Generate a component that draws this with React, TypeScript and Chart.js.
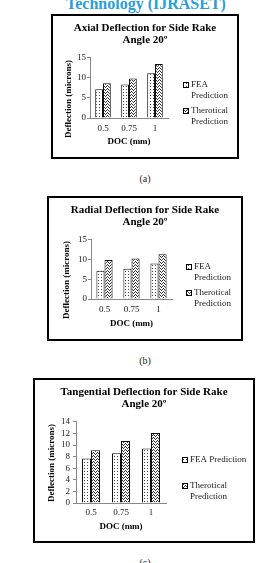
import React, { useEffect, useRef } from "react";
import { Chart, registerables } from "chart.js";

Chart.register(...registerables);

const categories = ["0.5", "0.75", "1"];
const seriesNames = ["FEA Prediction", "Therotical Prediction"];

const axialFEA = [7.2, 8.4, 11.2];
const axialTheo = [8.7, 9.9, 13.5];
const radialFEA = [7.2, 7.7, 9.0];
const radialTheo = [9.9, 10.3, 11.4];
const tangFEA = [7.7, 8.6, 9.4];
const tangTheo = [9.1, 10.7, 12.1];

const axialTitle = ["Axial Deflection for Side Rake", "Angle 20\u00ba"];
const radialTitle = ["Radial Deflection for Side Rake", "Angle 20\u00ba"];
const tangTitle = ["Tangential Deflection for Side Rake", "Angle 20\u00ba"];
const xTitle = "DOC (mm)";
const yTitle = "Deflection (microns)";
const legendTwoLine = [["FEA", "Prediction"], ["Therotical", "Prediction"]];
const legendOneLine = [["FEA Prediction"], ["Therotical", "Prediction"]];

const SERIF = "'Liberation Serif', 'Times New Roman', serif";

function makeDots(): CanvasPattern {
  const c = document.createElement("canvas");
  c.width = 3;
  c.height = 3;
  const x = c.getContext("2d")!;
  x.fillStyle = "#fff";
  x.fillRect(0, 0, 3, 3);
  x.fillStyle = "#444";
  x.fillRect(1, 1, 1, 1);
  return x.createPattern(c, "repeat")!;
}

function makeZig(): CanvasPattern {
  const c = document.createElement("canvas");
  c.width = 4;
  c.height = 3;
  const x = c.getContext("2d")!;
  x.fillStyle = "#fff";
  x.fillRect(0, 0, 4, 3);
  x.fillStyle = "#333";
  x.fillRect(0, 2, 1, 1);
  x.fillRect(1, 1, 1, 1);
  x.fillRect(2, 0, 1, 1);
  x.fillRect(3, 1, 1, 1);
  return x.createPattern(c, "repeat")!;
}

type Spec = {
  boxLeft: number;
  boxTop: number;
  boxW: number;
  boxH: number;
  title: string[];
  fea: number[];
  theo: number[];
  yMax: number;
  yStep: number;
  plotL: number;
  plotR: number;
  xHeight: number;
  xTickPad: number;
  xTitlePad: number;
  yTickPad: number;
  yTitleX: number;
  yTitleY: number;
  legend: string[][];
  legendBoxX: number;
  legendTextX: number;
  legendY: number[];
};

function BarChart({ spec }: { spec: Spec }) {
  const ref = useRef<HTMLCanvasElement>(null);
  const W = spec.boxW - 4;
  const H = spec.boxH - 4;

  useEffect(() => {
    const canvas = ref.current!;
    const fea = makeDots();
    const theo = makeZig();
    const patterns = [fea, theo];

    const sidePlugin = {
      id: "sideLegend",
      afterDraw(chart: any) {
        const ctx = chart.ctx as CanvasRenderingContext2D;
        ctx.save();
        ctx.font = `9px ${SERIF}`;
        ctx.textBaseline = "middle";
        ctx.textAlign = "left";
        spec.legend.forEach((lines, i) => {
          const y = spec.legendY[i];
          ctx.fillStyle = patterns[i];
          ctx.fillRect(spec.legendBoxX, y - 3, 6, 6);
          ctx.strokeStyle = "#000";
          ctx.lineWidth = 1;
          ctx.strokeRect(spec.legendBoxX + 0.5, y - 2.5, 5, 5);
          ctx.fillStyle = "#222";
          lines.forEach((t, j) => ctx.fillText(t, spec.legendTextX, y + j * 10.5));
        });
        ctx.restore();

        // y-axis title, offset downward as in the original figure
        ctx.save();
        ctx.font = `bold 9px ${SERIF}`;
        ctx.fillStyle = "#000";
        ctx.textAlign = "center";
        ctx.textBaseline = "middle";
        ctx.translate(spec.yTitleX, spec.yTitleY);
        ctx.rotate(-Math.PI / 2);
        ctx.fillText(yTitle, 0, 0);
        ctx.restore();
      },
    };

    const chart = new Chart(canvas, {
      type: "bar",
      data: {
        labels: categories,
        datasets: [
          {
            label: seriesNames[0],
            data: spec.fea,
            backgroundColor: fea as any,
            borderColor: "#111",
            borderWidth: 1,
            categoryPercentage: 0.6,
            barPercentage: 1,
          },
          {
            label: seriesNames[1],
            data: spec.theo,
            backgroundColor: theo as any,
            borderColor: "#111",
            borderWidth: 1,
            categoryPercentage: 0.6,
            barPercentage: 1,
          },
        ],
      },
      options: {
        responsive: false,
        animation: false,
        devicePixelRatio: 1,
        layout: { padding: 0 },
        plugins: {
          legend: { display: false },
          tooltip: { enabled: false },
          title: {
            display: true,
            text: spec.title,
            color: "#000",
            font: { family: SERIF, size: 11, weight: "bold", lineHeight: 1.09 },
            padding: { top: 6, bottom: 12 },
          },
        },
        scales: {
          x: {
            grid: { display: true, drawOnChartArea: false, drawTicks: false },
            border: { color: "#888", width: 1 },
            ticks: {
              color: "#222",
              font: { family: SERIF, size: 9 },
              padding: spec.xTickPad,
              maxRotation: 0,
            },
            title: {
              display: true,
              text: xTitle,
              color: "#000",
              font: { family: SERIF, size: 9, weight: "bold", lineHeight: 1.2 },
              padding: { top: 0, bottom: spec.xTitlePad },
            },
            afterFit(scale: any) {
              scale.height = spec.xHeight;
            },
          },
          y: {
            min: 0,
            max: spec.yMax,
            grid: { drawOnChartArea: false, drawTicks: true, tickLength: 3, color: "#888" },
            border: { color: "#888", width: 1 },
            ticks: {
              stepSize: spec.yStep,
              autoSkip: false,
              color: "#222",
              font: { family: SERIF, size: 9 },
              padding: spec.yTickPad,
            },
            title: { display: false },
            afterFit(scale: any) {
              scale.width = spec.plotL;
            },
          },
          legendSpace: {
            type: "linear",
            position: "right",
            display: true,
            grid: { display: false, drawTicks: false },
            border: { display: false },
            ticks: { display: false },
            afterFit(scale: any) {
              scale.width = W - spec.plotR;
            },
          },
        },
      } as any,
      plugins: [sidePlugin],
    });
    return () => chart.destroy();
  }, []);

  return (
    <div
      style={{
        position: "absolute",
        left: spec.boxLeft,
        top: spec.boxTop,
        width: spec.boxW,
        height: spec.boxH,
        border: "2px solid #000",
        boxSizing: "border-box",
        background: "#fff",
      }}
    >
      <canvas ref={ref} width={W} height={H} style={{ display: "block", width: W, height: H }} />
    </div>
  );
}

const specs: Spec[] = [
  {
    boxLeft: 51, boxTop: 14, boxW: 188, boxH: 145,
    title: axialTitle, fea: axialFEA, theo: axialTheo, yMax: 15, yStep: 5,
    plotL: 37, plotR: 115, xHeight: 39, xTickPad: 5, xTitlePad: 9.5,
    yTickPad: 1, yTitleX: 16, yTitleY: 83,
    legend: legendTwoLine, legendBoxX: 130, legendTextX: 138, legendY: [69, 95],
  },
  {
    boxLeft: 47, boxTop: 196, boxW: 196, boxH: 145,
    title: radialTitle, fea: radialFEA, theo: radialTheo, yMax: 15, yStep: 5,
    plotL: 42, plotR: 123, xHeight: 40, xTickPad: 5.5, xTitlePad: 10,
    yTickPad: 1, yTitleX: 17.5, yTitleY: 82,
    legend: legendTwoLine, legendBoxX: 137, legendTextX: 145, legendY: [69, 95],
  },
  {
    boxLeft: 33, boxTop: 378, boxW: 222, boxH: 165,
    title: tangTitle, fea: tangFEA, theo: tangTheo, yMax: 14, yStep: 2,
    plotL: 41, plotR: 131, xHeight: 38, xTickPad: 4.5, xTitlePad: 8.6,
    yTickPad: 3, yTitleX: 17, yTitleY: 83,
    legend: legendOneLine, legendBoxX: 147, legendTextX: 155, legendY: [80, 106],
  },
];

const captions = [
  { text: "(a)", top: 174 },
  { text: "(b)", top: 356 },
  { text: "(c)", top: 557.5 },
];

export default function App() {
  useEffect(() => {
    document.body.style.overflow = "hidden";
  }, []);
  return (
    <div
      style={{
        position: "absolute",
        left: 0,
        top: 0,
        width: 274,
        height: 563,
        overflow: "hidden",
        background: "#fff",
        fontFamily: SERIF,
      }}
    >
      <div
        style={{
          position: "absolute",
          left: 0,
          top: -4.4,
          width: 292,
          textAlign: "center",
          fontSize: 16,
          lineHeight: "16px",
          fontWeight: "bold",
          color: "#2a9fd8",
          whiteSpace: "nowrap",
        }}
      >
        Technology (IJRASET)
      </div>
      {specs.map((s, i) => (
        <BarChart key={i} spec={s} />
      ))}
      {captions.map((c, i) => (
        <div
          key={i}
          style={{
            position: "absolute",
            left: 0,
            top: c.top,
            width: 290,
            textAlign: "center",
            fontSize: 10,
            lineHeight: "10px",
            color: "#222",
          }}
        >
          {c.text}
        </div>
      ))}
    </div>
  );
}
